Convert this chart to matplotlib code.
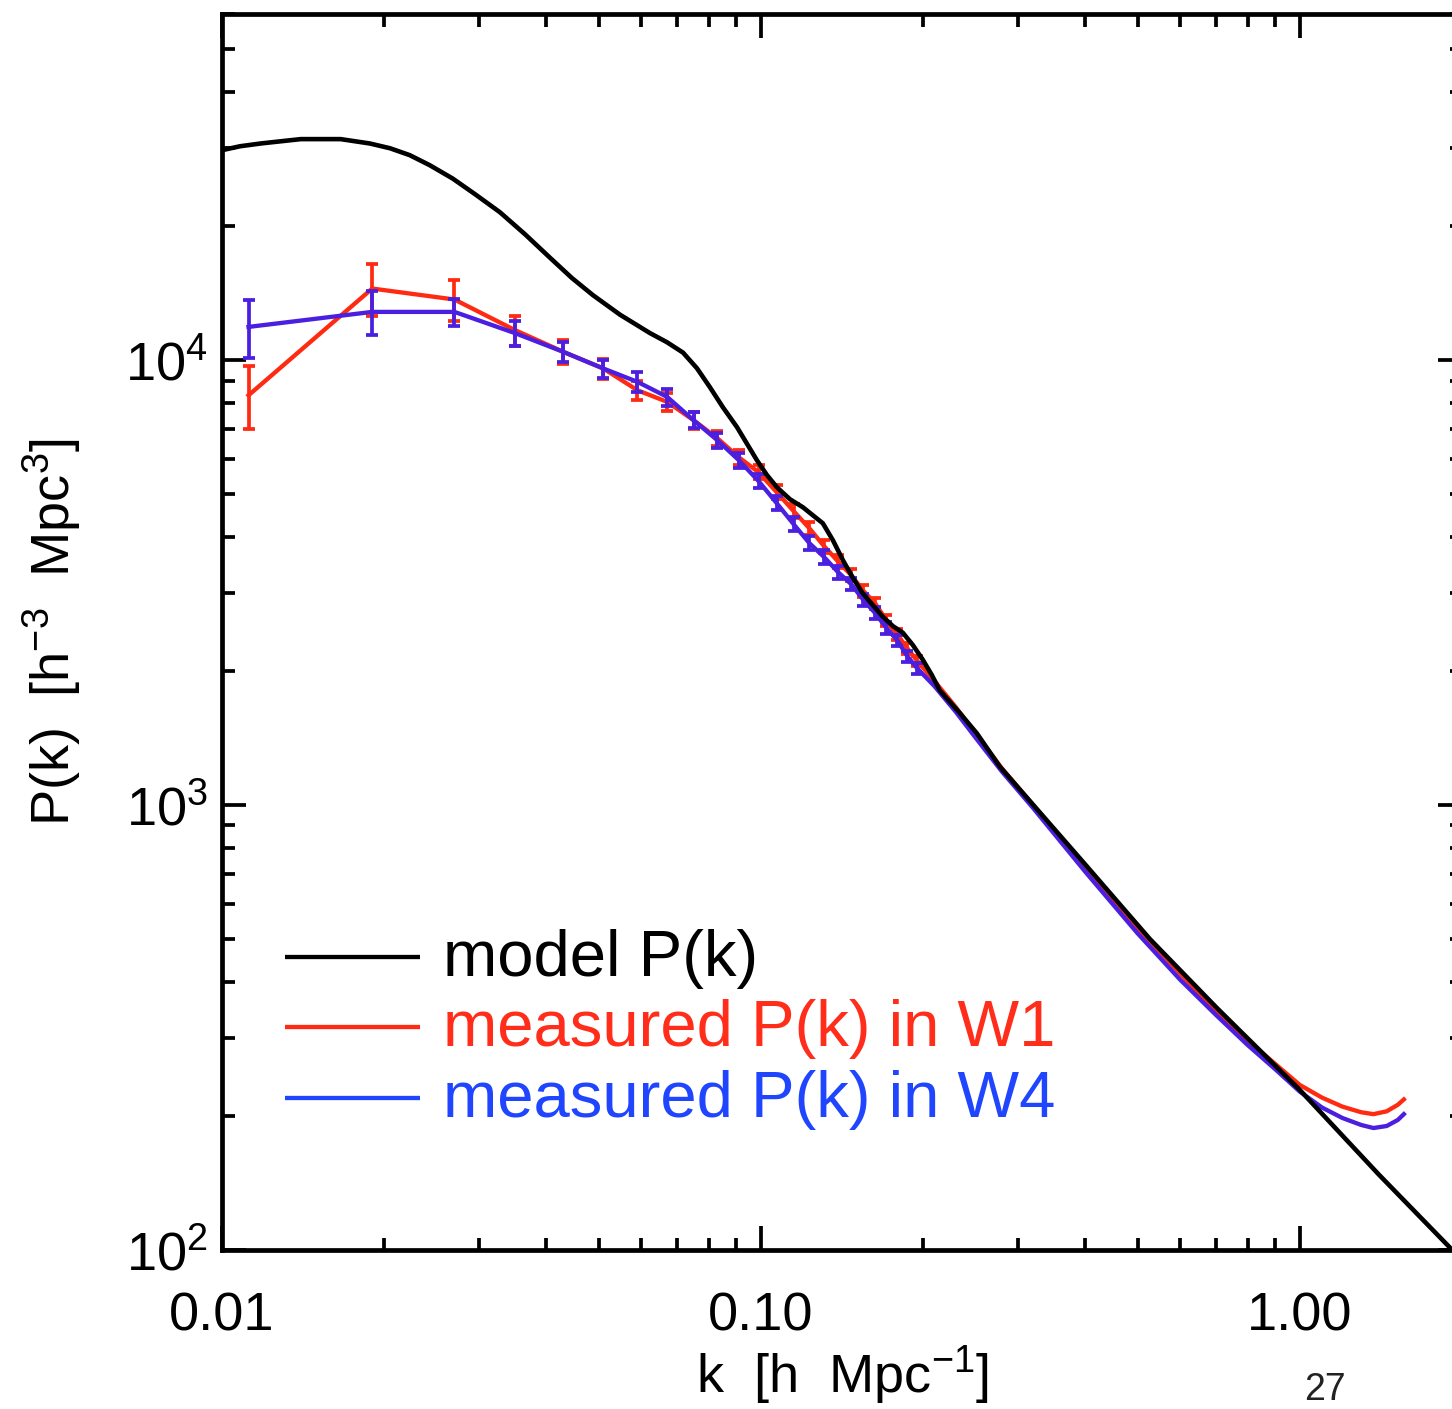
import matplotlib
matplotlib.use('Agg')
import matplotlib.pyplot as plt
from matplotlib.ticker import FixedLocator, FixedFormatter, LogLocator, NullFormatter

# ---------------- data ----------------
k_model = [0.0100, 0.0108, 0.0118, 0.0140, 0.0166, 0.0188, 0.0205, 0.0223, 0.0243,
           0.0268, 0.0295, 0.0328, 0.0365, 0.0406, 0.0446, 0.0488, 0.0548, 0.0623,
           0.0669, 0.0717, 0.0761, 0.0804, 0.0850, 0.0903, 0.0983, 0.1026, 0.1071,
           0.1132, 0.1197, 0.1249, 0.1303, 0.1360, 0.1420, 0.1482, 0.1546, 0.1684,
           0.1758, 0.1834, 0.1914, 0.1998, 0.2076, 0.2148, 0.2340, 0.2516, 0.2776,
           0.3115, 0.40, 0.527, 0.70, 1.00, 1.40, 1.95]
P_model = [29650, 30260, 30700, 31400, 31400, 30700, 29950, 28900, 27430,
           25600, 23600, 21500, 19190, 17000, 15300, 14000, 12650, 11500,
           10980, 10400, 9590, 8700, 7840, 7070, 5960, 5520, 5180,
           4870, 4670, 4480, 4300, 3940, 3550, 3240, 2990, 2650,
           2525, 2440, 2290, 2120, 1960, 1810, 1610, 1450, 1220,
           1040, 735, 500, 351, 229, 148, 98]

k_bins = [0.0112, 0.019, 0.027, 0.035, 0.043, 0.051, 0.059, 0.067, 0.075, 0.083,
          0.091, 0.099, 0.107, 0.115, 0.123, 0.131, 0.139, 0.147, 0.155, 0.163,
          0.171, 0.179, 0.187, 0.195]
P_w1 = [8340, 14490, 13690, 11680, 10440, 9580, 8560, 8060, 7330, 6680,
        6050, 5600, 5050, 4580, 4190, 3820, 3530, 3290, 3030, 2840,
        2600, 2420, 2250, 2110]
err_w1 = [1350, 1950, 1450, 900, 650, 500, 430, 380, 320, 270,
          235, 205, 180, 160, 145, 130, 115, 105, 95, 85,
          78, 70, 64, 58]
P_w4 = [11880, 12840, 12840, 11500, 10440, 9580, 8940, 8270, 7330, 6610,
        5960, 5350, 4770, 4280, 3880, 3610, 3340, 3140, 2890, 2700,
        2500, 2350, 2160, 2030]
err_w4 = [1750, 1450, 900, 750, 520, 450, 450, 360, 300, 260,
          225, 200, 175, 155, 140, 125, 112, 102, 92, 83,
          76, 68, 62, 56]

k_tail = [0.21, 0.23, 0.25, 0.28, 0.32, 0.40, 0.50, 0.60, 0.70, 0.80,
          0.90, 1.00, 1.10, 1.20, 1.30, 1.37, 1.45, 1.52, 1.56]
P_w1_tail = [1900, 1660, 1450, 1210, 1000, 725, 530, 418, 345, 296,
             262, 235, 220, 210, 204, 202, 205, 212, 218]
P_w4_tail = [1850, 1620, 1420, 1190, 985, 708, 515, 405, 337, 289,
             255, 227, 209, 198, 191, 188, 190, 196, 202]

x_ticks = [0.01, 0.1, 1.0]
x_ticklabels = ['0.01', '0.10', '1.00']
y_ticks = [1e2, 1e3, 1e4]
legend_labels = ['model P(k)', 'measured P(k) in W1', 'measured P(k) in W4']

# ---------------- style ----------------
plt.rcParams['font.family'] = ['Liberation Sans', 'DejaVu Sans']
plt.rcParams['mathtext.fontset'] = 'custom'
plt.rcParams['mathtext.rm'] = 'Liberation Sans'
plt.rcParams['mathtext.it'] = 'Liberation Sans:italic'
plt.rcParams['mathtext.bf'] = 'Liberation Sans:bold'
plt.rcParams['mathtext.default'] = 'regular'

red = '#ff2a12'
blue = '#4a1fe0'
leg_red = '#ff2d1a'
leg_blue = '#1f45ff'

fig = plt.figure(figsize=(14.52, 14.09), dpi=100)
ax = fig.add_axes([222 / 1452, 159 / 1409, 1240 / 1452, 1236 / 1409])
ax.set_xscale('log')
ax.set_yscale('log')
ax.set_xlim(0.01, 2.0)
ax.set_ylim(100, 6e4)

# measured W1
ax.plot(k_bins + k_tail, P_w1 + P_w1_tail, color=red, lw=3.1, zorder=3,
        solid_joinstyle='round')
ax.errorbar(k_bins, P_w1, yerr=err_w1, fmt='none', ecolor=red, elinewidth=2.7,
            capsize=4.0, capthick=2.7, zorder=3)
# measured W4
ax.plot(k_bins + k_tail, P_w4 + P_w4_tail, color=blue, lw=3.1, zorder=4,
        solid_joinstyle='round')
ax.errorbar(k_bins, P_w4, yerr=err_w4, fmt='none', ecolor=blue, elinewidth=2.7,
            capsize=4.0, capthick=2.7, zorder=4)
# model
ax.plot(k_model, P_model, color='black', lw=3.3, zorder=5, solid_joinstyle='round')

# ticks
ax.xaxis.set_major_locator(FixedLocator(x_ticks))
ax.xaxis.set_major_formatter(FixedFormatter(x_ticklabels))
ax.xaxis.set_minor_locator(LogLocator(base=10, subs=range(2, 10), numticks=20))
ax.xaxis.set_minor_formatter(NullFormatter())
ax.yaxis.set_major_locator(FixedLocator(y_ticks))
ax.yaxis.set_minor_locator(LogLocator(base=10, subs=range(2, 10), numticks=20))
ax.yaxis.set_minor_formatter(NullFormatter())

ax.tick_params(which='both', direction='in', top=True, right=True, width=2.7,
               color='black')
ax.tick_params(which='major', length=17)
ax.tick_params(which='minor', length=9)
ax.tick_params(axis='x', which='major', labelsize=39, pad=30)
ax.tick_params(axis='y', which='major', labelsize=39, pad=10)
for s in ax.spines.values():
    s.set_linewidth(3.4)

ax.set_xlabel(r'k  [h  Mpc$^{-1}$]', fontsize=39)
ax.xaxis.set_label_coords(0.5, -0.076)
ax.set_ylabel(r'P(k)  [h$^{-3}$  Mpc$^{3}$]', fontsize=39)
ax.yaxis.set_label_coords(-0.112, 0.5)

# legend (drawn manually)
line_y = [0.2371, 0.1804, 0.1230]
base_y = [0.2217, 0.1650, 0.1076]
line_cols = ['black', red, leg_blue]
text_cols = ['black', leg_red, leg_blue]
for lab, ly, by, lc, tc in zip(legend_labels, line_y, base_y, line_cols, text_cols):
    ax.plot([0.0508, 0.1597], [ly, ly], transform=ax.transAxes, color=lc, lw=3.1,
            solid_capstyle='butt', clip_on=False, zorder=6)
    ax.text(0.1782, by, lab, transform=ax.transAxes, color=tc, fontsize=47,
            ha='left', va='baseline', zorder=6)

# slide page number at the bottom edge
fig.text(1325 / 1452, 0.001, '27', fontsize=27, color='#222222',
         ha='center', va='bottom')

fig.savefig('out.png', dpi=100)
